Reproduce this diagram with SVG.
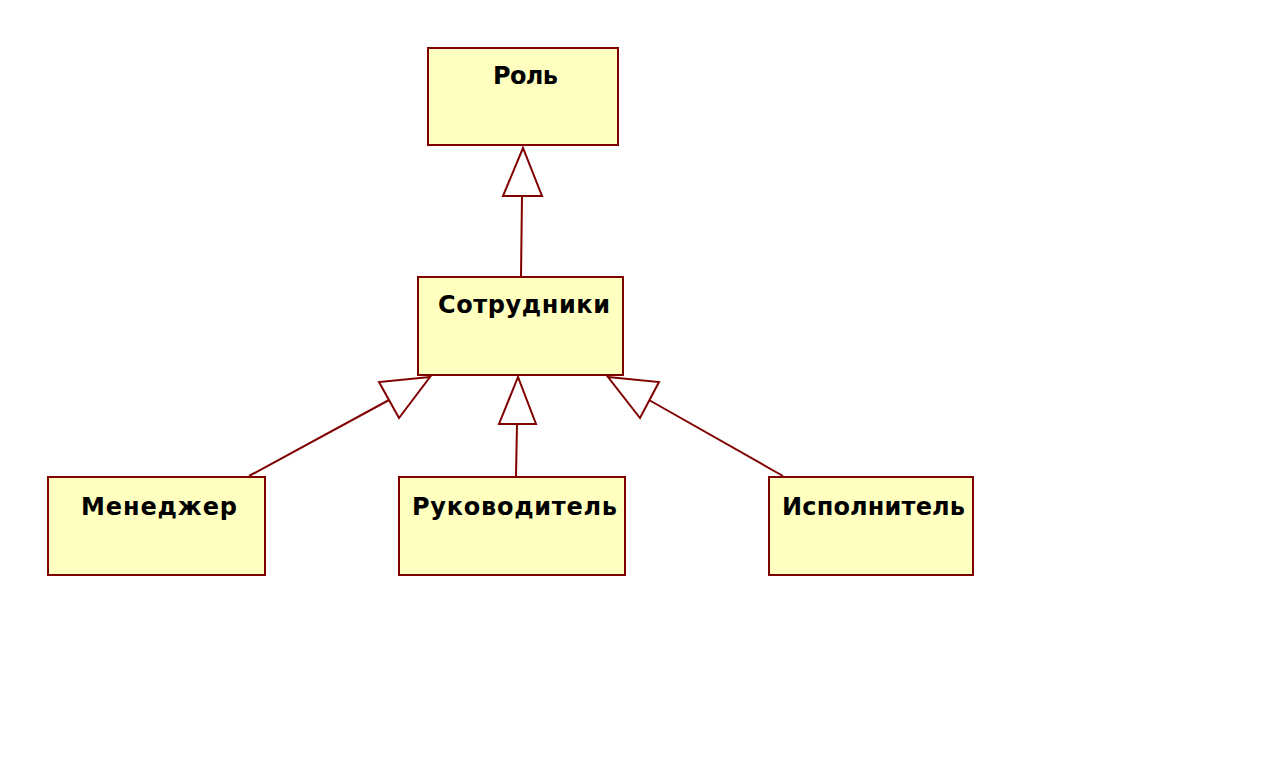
<svg xmlns="http://www.w3.org/2000/svg" width="1280" height="781" viewBox="0 0 1280 781">
<style>
.box{fill:#FFFFBF;stroke:#800000;stroke-width:2}
.lbl{font-family:"DejaVu Sans",sans-serif;font-weight:bold;font-size:24px;fill:#000}
.con{stroke:#800000;stroke-width:2;fill:none}
.tri{fill:#fff;stroke:#800000;stroke-width:2;stroke-linejoin:miter}
</style>
<rect width="1280" height="781" fill="#fff"/>
<g id="role"><rect class="box" x="428" y="48" width="190" height="97"/><text class="lbl" x="493" y="84" textLength="65">Роль</text></g>
<g id="employees"><rect class="box" x="418" y="277" width="205" height="98"/><text class="lbl" x="438" y="313" textLength="172">Сотрудники</text></g>
<g id="manager"><rect class="box" x="48" y="477" width="217" height="98"/><text class="lbl" x="81" y="515" textLength="156">Менеджер</text></g>
<g id="head"><rect class="box" x="399" y="477" width="226" height="98"/><text class="lbl" x="412" y="515" textLength="205">Руководитель</text></g>
<g id="executor"><rect class="box" x="769" y="477" width="204" height="98"/><text class="lbl" x="782" y="515" textLength="183">Исполнитель</text></g>
<g id="connectors">
<path class="con" d="M521 276 L522 196"/>
<polygon class="tri" points="523,148 503,196 542,196"/>
<path class="con" d="M516 476 L517 424"/>
<polygon class="tri" points="518,377 499,424 536,424"/>
<path class="con" d="M249 476 L389 400"/>
<polygon class="tri" points="430,377 379,382 399,418"/>
<path class="con" d="M783 476 L649 400"/>
<polygon class="tri" points="608,377 659,382 640,418"/>
</g>
</svg>
